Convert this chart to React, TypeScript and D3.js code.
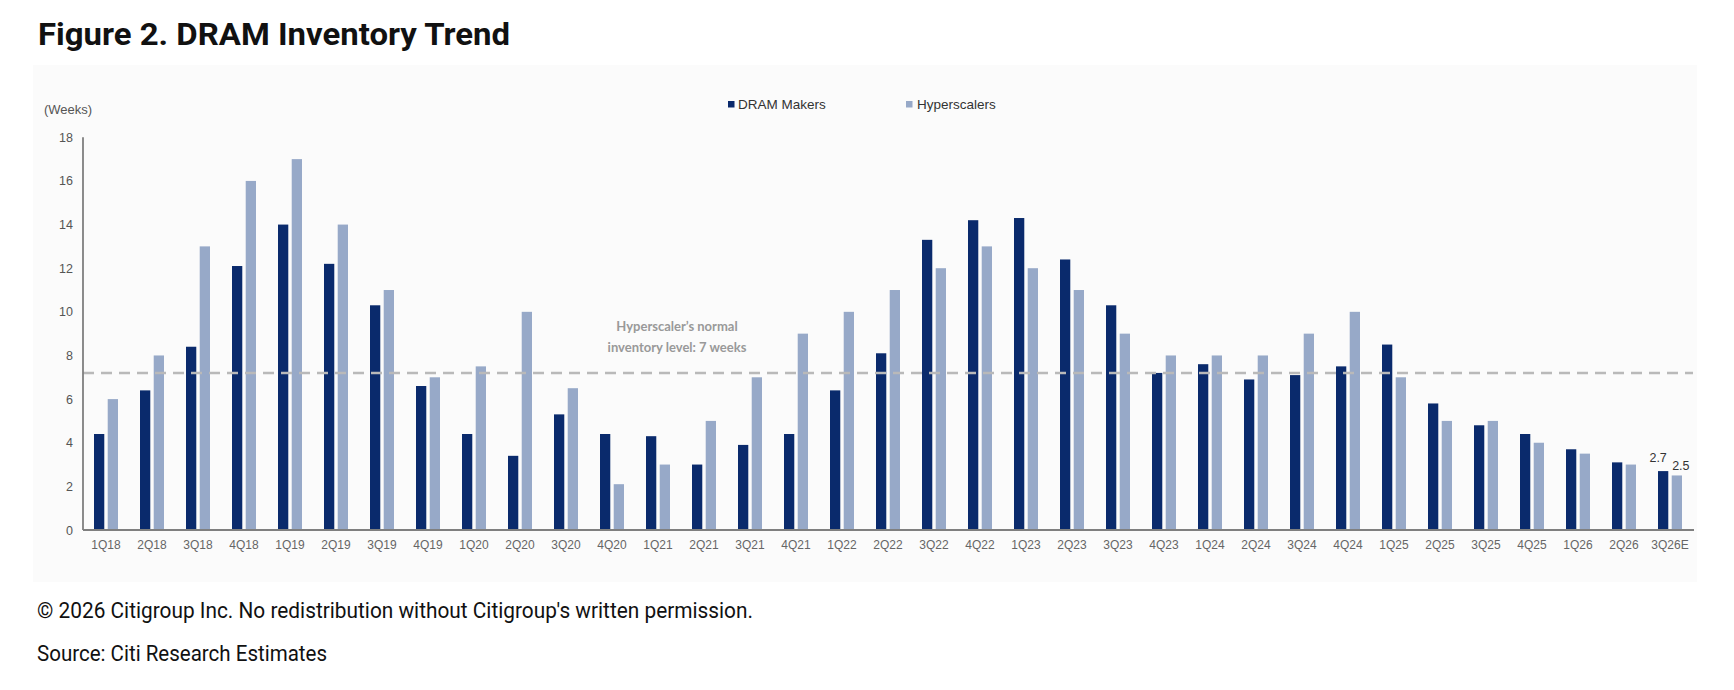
import React from "react";
import * as d3 from "d3";

const quarters = [
  "1Q18", "2Q18", "3Q18", "4Q18",
  "1Q19", "2Q19", "3Q19", "4Q19",
  "1Q20", "2Q20", "3Q20", "4Q20",
  "1Q21", "2Q21", "3Q21", "4Q21",
  "1Q22", "2Q22", "3Q22", "4Q22",
  "1Q23", "2Q23", "3Q23", "4Q23",
  "1Q24", "2Q24", "3Q24", "4Q24",
  "1Q25", "2Q25", "3Q25", "4Q25",
  "1Q26", "2Q26", "3Q26E",
];

const dramMakers = [
  4.4, 6.4, 8.4, 12.1,
  14.0, 12.2, 10.3, 6.6,
  4.4, 3.4, 5.3, 4.4,
  4.3, 3.0, 3.9, 4.4,
  6.4, 8.1, 13.3, 14.2,
  14.3, 12.4, 10.3, 7.2,
  7.6, 6.9, 7.1, 7.5,
  8.5, 5.8, 4.8, 4.4,
  3.7, 3.1, 2.7,
];

const hyperscalers = [
  6, 8, 13, 16,
  17, 14, 11, 7,
  7.5, 10, 6.5, 2.1,
  3, 5, 7, 9,
  10, 11, 12, 13,
  12, 11, 9, 8,
  8, 8, 9, 10,
  7, 5, 5, 4,
  3.5, 3, 2.5,
];

const seriesNames = ["DRAM Makers", "Hyperscalers"];
const yTicks = [0, 2, 4, 6, 8, 10, 12, 14, 16, 18];
const normalLevel = 7.2;

const COLORS = ["#0a2a6c", "#97a9c8"];
const AXIS = "#7f7f7f";
const CHART_FONT = "'Liberation Sans', Arial, sans-serif";

const W = 1734;
const H = 690;

export default function App() {
  const x = d3.scaleBand<string>().domain(quarters).range([83, 1693]).padding(0);
  const inner = d3
    .scaleBand<string>()
    .domain(seriesNames)
    .range([11, 35])
    .paddingInner(0.25);
  const y = d3.scaleLinear().domain([0, 18]).range([530, 137.3]);

  const series = [dramMakers, hyperscalers];
  const lastIdx = quarters.length - 1;

  return (
    <svg
      width={W}
      height={H}
      style={{ position: "absolute", left: 0, top: 0, background: "#fff" }}
    >
      {/* title */}
      <text
        x={38}
        y={45}
        fontFamily="Roboto, 'Liberation Sans', sans-serif"
        fontWeight={700}
        fontSize={32}
        fill="#111"
        textLength={472}
        lengthAdjust="spacingAndGlyphs"
      >
        Figure 2. DRAM Inventory Trend
      </text>

      {/* chart panel */}
      <rect x={33} y={65} width={1664} height={517} fill="#fbfbfb" />

      {/* legend */}
      <g fontFamily={CHART_FONT} fontSize={13.5} fill="#333">
        <rect x={728} y={101} width={6.5} height={6.5} fill={COLORS[0]} />
        <text x={738} y={109}>DRAM Makers</text>
        <rect x={906} y={101} width={6.5} height={6.5} fill={COLORS[1]} />
        <text x={917} y={109}>Hyperscalers</text>
      </g>

      {/* y axis label and ticks */}
      <text x={44} y={114} fontFamily={CHART_FONT} fontSize={13} fill="#555">
        (Weeks)
      </text>
      {yTicks.map((t) => (
        <text
          key={t}
          x={73}
          y={y(t) + 4.5}
          textAnchor="end"
          fontFamily={CHART_FONT}
          fontSize={12.5}
          fill="#555"
        >
          {t}
        </text>
      ))}

      {/* bars */}
      {series.map((vals, s) => (
        <g key={seriesNames[s]} fill={COLORS[s]}>
          {vals.map((v, i) => (
            <rect
              key={quarters[i]}
              x={(x(quarters[i]) || 0) + (inner(seriesNames[s]) || 0)}
              y={y(v)}
              width={inner.bandwidth()}
              height={y(0) - y(v)}
            />
          ))}
        </g>
      ))}

      {/* normal inventory line */}
      <line
        x1={83}
        x2={1693}
        y1={y(normalLevel)}
        y2={y(normalLevel)}
        stroke="#b9b9b9"
        strokeWidth={2.5}
        strokeDasharray="11,7"
      />
      <g
        fontFamily="Lato, 'Open Sans', sans-serif"
        fontWeight={700}
        fontSize={13}
        fill="#999"
        textAnchor="middle"
      >
        <text x={677} y={331}>Hyperscaler’s normal</text>
        <text x={677} y={352}>inventory level: 7 weeks</text>
      </g>

      {/* last-quarter data labels */}
      <g fontFamily={CHART_FONT} fontSize={12.5} fill="#333" textAnchor="middle">
        <text
          x={(x(quarters[lastIdx]) || 0) + (inner(seriesNames[0]) || 0) + inner.bandwidth() / 2 - 5}
          y={y(dramMakers[lastIdx]) - 9}
        >
          {dramMakers[lastIdx].toFixed(1)}
        </text>
        <text
          x={(x(quarters[lastIdx]) || 0) + (inner(seriesNames[1]) || 0) + inner.bandwidth() / 2 + 4}
          y={y(hyperscalers[lastIdx]) - 5}
        >
          {hyperscalers[lastIdx].toFixed(1)}
        </text>
      </g>

      {/* axes */}
      <line x1={83} x2={83} y1={y(18)} y2={y(0)} stroke={AXIS} strokeWidth={1.8} />
      <line x1={83} x2={1694} y1={y(0)} y2={y(0)} stroke={AXIS} strokeWidth={1.8} />

      {quarters.map((q) => (
        <text
          key={q}
          x={(x(q) || 0) + x.bandwidth() / 2}
          y={549}
          textAnchor="middle"
          fontFamily={CHART_FONT}
          fontSize={12}
          fill="#666"
        >
          {q}
        </text>
      ))}

      {/* footer */}
      <g fontFamily="Roboto, 'Liberation Sans', sans-serif" fontSize={22} fill="#111">
        <text x={37} y={618} textLength={716} lengthAdjust="spacingAndGlyphs">
          © 2026 Citigroup Inc. No redistribution without Citigroup's written permission.
        </text>
        <text x={37} y={661} textLength={290} lengthAdjust="spacingAndGlyphs">
          Source: Citi Research Estimates
        </text>
      </g>
    </svg>
  );
}
